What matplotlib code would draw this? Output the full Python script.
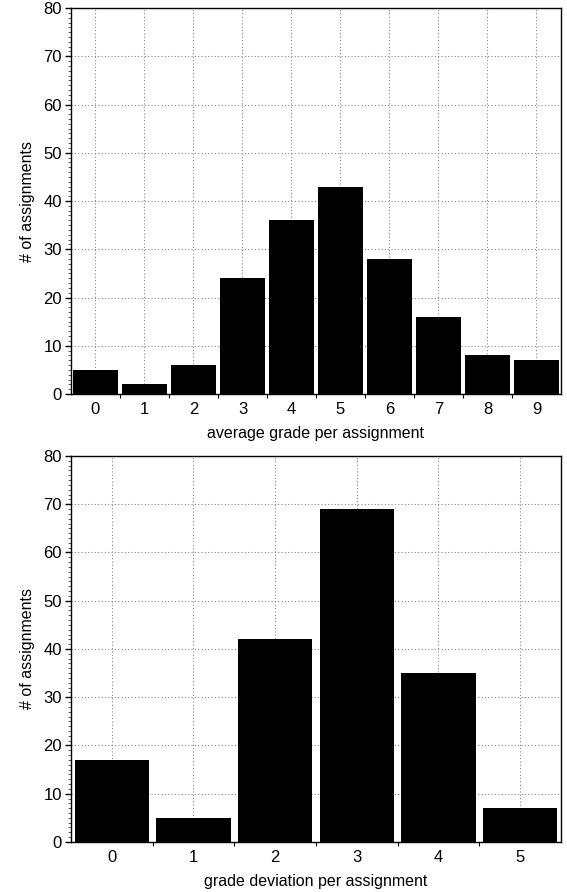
import matplotlib
matplotlib.use("Agg")
import matplotlib.pyplot as plt
from matplotlib.ticker import MultipleLocator

plt.rcParams['font.family'] = ['Liberation Sans', 'DejaVu Sans']

avg_categories = [0, 1, 2, 3, 4, 5, 6, 7, 8, 9]
avg_counts = [5, 2, 6, 24, 36, 43, 28, 16, 8, 7]
dev_categories = [0, 1, 2, 3, 4, 5]
dev_counts = [17, 5, 42, 69, 35, 7]

fig = plt.figure(figsize=(5.67, 8.92), dpi=100)
ax1 = fig.add_axes([0.1252, 0.5583, 0.9894 - 0.1252, 0.991 - 0.5583])
ax2 = fig.add_axes([0.1252, 0.0561, 0.9894 - 0.1252, 0.4888 - 0.0561])

def style(ax, cats, counts, xlabel, width):
    ax.set_axisbelow(True)
    ax.grid(True, which='major', color='#888888', linestyle=(0, (1, 2)), linewidth=0.8)
    ax.bar(cats, counts, width=width, color='black', edgecolor='none')
    ax.set_xlim(-0.5, len(cats) - 0.5)
    ax.set_ylim(0, 80)
    ax.set_xticks(cats)
    ax.set_xticks([c + 0.5 for c in cats[:-1]], minor=True)
    ax.yaxis.set_major_locator(MultipleLocator(10))
    ax.yaxis.set_minor_locator(MultipleLocator(1))
    ax.tick_params(axis='x', which='major', length=0, pad=6, labelsize=12)
    ax.tick_params(axis='x', which='minor', length=3, width=0.8, direction='out')
    ax.tick_params(axis='y', which='major', length=4.5, width=1, direction='out', labelsize=12, pad=2)
    ax.tick_params(axis='y', which='minor', length=2.5, width=0.6, direction='out', color='#444444')
    for s in ax.spines.values():
        s.set_linewidth(1.0)
        s.set_color('black')
    ax.set_xlabel(xlabel, fontsize=11.5, labelpad=6)
    ax.set_ylabel('# of assignments', fontsize=11.5, labelpad=6)

style(ax1, avg_categories, avg_counts, 'average grade per assignment', 0.92)
style(ax2, dev_categories, dev_counts, 'grade deviation per assignment', 0.91)

fig.savefig('out.png', dpi=100)
